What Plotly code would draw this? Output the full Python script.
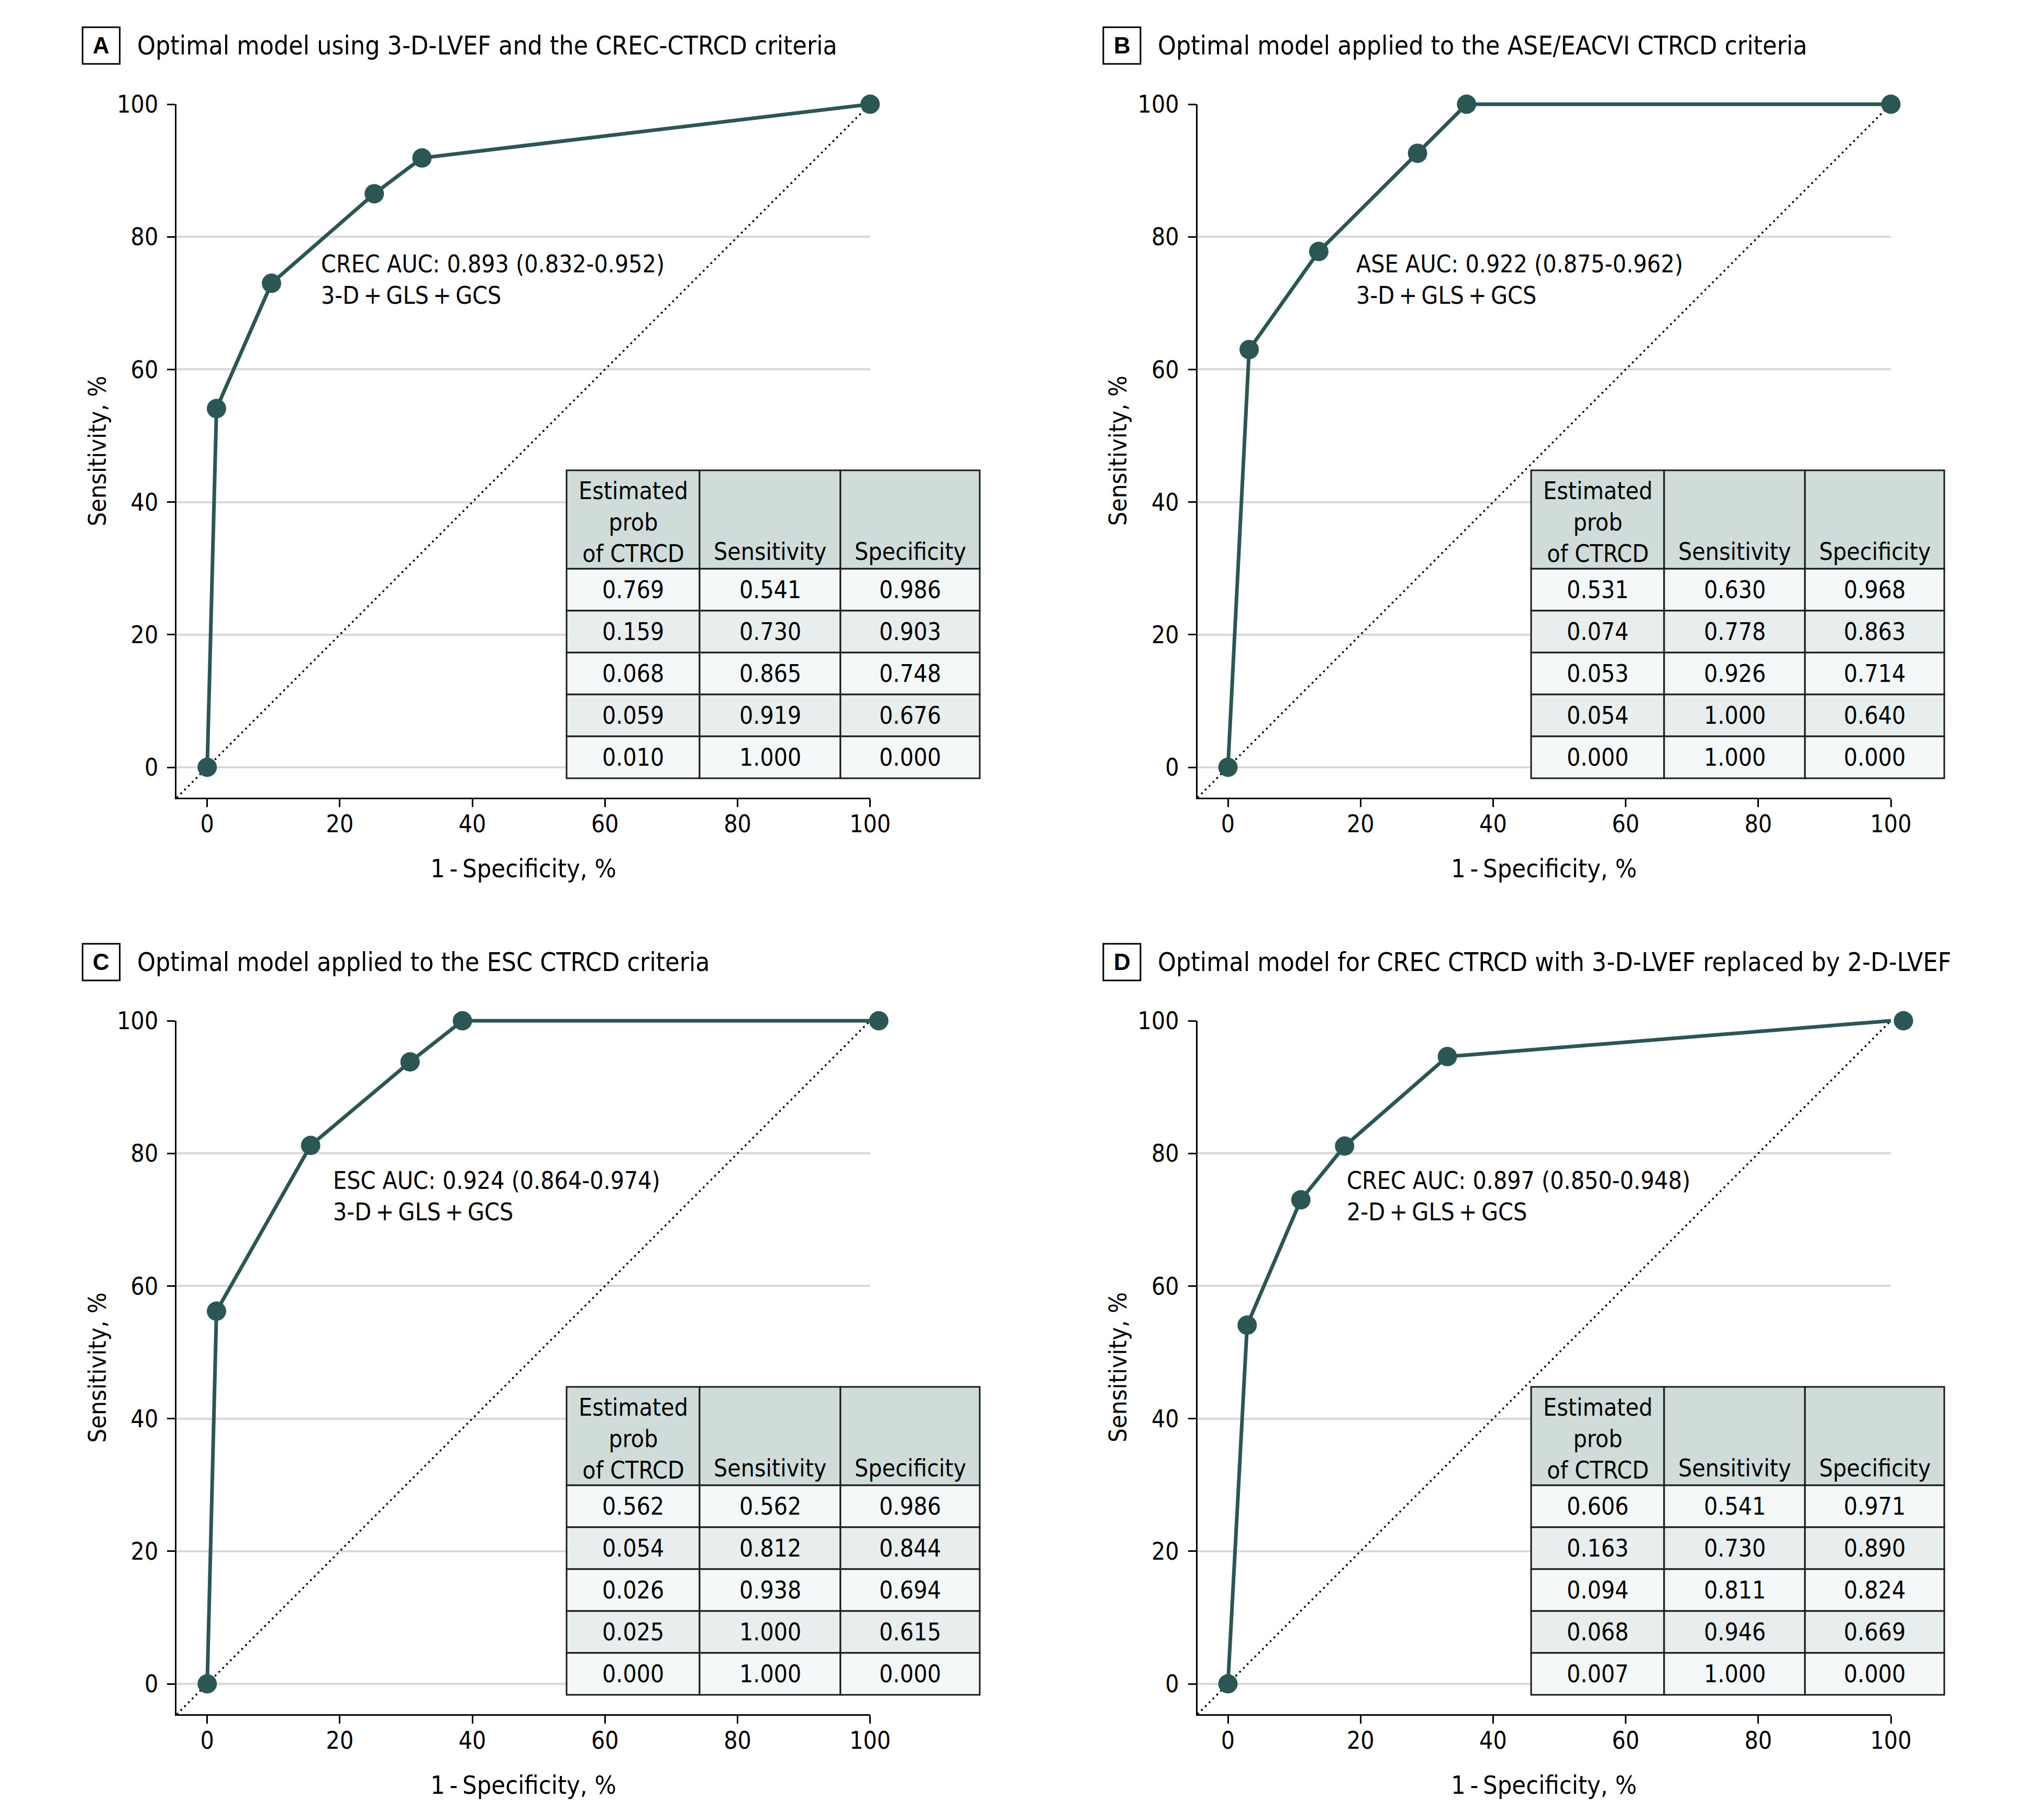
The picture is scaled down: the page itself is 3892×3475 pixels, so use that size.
import plotly.graph_objects as go

W, H = 3892, 3475
FONT = "Liberation Sans Narrow, Arial Narrow, DejaVu Sans Condensed, sans-serif"
LINE_COLOR = "#2b5654"

# ---------------- data ----------------
panels = ["A", "B", "C", "D"]

titles = {
    "A": "Optimal model using 3-D-LVEF and the CREC-CTRCD criteria",
    "B": "Optimal model applied to the ASE/EACVI CTRCD criteria",
    "C": "Optimal model applied to the ESC CTRCD criteria",
    "D": "Optimal model for CREC CTRCD with 3-D-LVEF replaced by 2-D-LVEF",
}
auc_text = {
    "A": ["CREC AUC: 0.893 (0.832-0.952)", "3-D\u2009+\u2009GLS\u2009+\u2009GCS"],
    "B": ["ASE AUC: 0.922 (0.875-0.962)", "3-D\u2009+\u2009GLS\u2009+\u2009GCS"],
    "C": ["ESC AUC: 0.924 (0.864-0.974)", "3-D\u2009+\u2009GLS\u2009+\u2009GCS"],
    "D": ["CREC AUC: 0.897 (0.850-0.948)", "2-D\u2009+\u2009GLS\u2009+\u2009GCS"],
}

# ROC curve points (1 - specificity %, sensitivity %)
a_line_x = [0, 1.4, 9.7, 25.2, 32.4, 100]
a_mark_x = [0, 1.4, 9.7, 25.2, 32.4, 100]
a_sens_y = [0, 54.1, 73.0, 86.5, 91.9, 100]

b_line_x = [0, 3.2, 13.7, 28.6, 36.0, 100]
b_mark_x = [0, 3.2, 13.7, 28.6, 36.0, 100]
b_sens_y = [0, 63.0, 77.8, 92.6, 100, 100]

c_line_x = [0, 1.4, 15.6, 30.6, 38.5, 100]
c_mark_x = [0, 1.4, 15.6, 30.6, 38.5, 101.3]
c_sens_y = [0, 56.2, 81.2, 93.8, 100, 100]

d_line_x = [0, 2.9, 11.0, 17.6, 33.1, 100]
d_mark_x = [0, 2.9, 11.0, 17.6, 33.1, 101.9]
d_sens_y = [0, 54.1, 73.0, 81.1, 94.6, 100]

# Table values
a_prob = [0.769, 0.159, 0.068, 0.059, 0.010]
a_sens = [0.541, 0.730, 0.865, 0.919, 1.000]
a_spec = [0.986, 0.903, 0.748, 0.676, 0.000]

b_prob = [0.531, 0.074, 0.053, 0.054, 0.000]
b_sens = [0.630, 0.778, 0.926, 1.000, 1.000]
b_spec = [0.968, 0.863, 0.714, 0.640, 0.000]

c_prob = [0.562, 0.054, 0.026, 0.025, 0.000]
c_sens = [0.562, 0.812, 0.938, 1.000, 1.000]
c_spec = [0.986, 0.844, 0.694, 0.615, 0.000]

d_prob = [0.606, 0.163, 0.094, 0.068, 0.007]
d_sens = [0.541, 0.730, 0.811, 0.946, 1.000]
d_spec = [0.971, 0.890, 0.824, 0.669, 0.000]

header_labels = ["Estimated<br>prob<br>of CTRCD", "Sensitivity", "Specificity"]
tick_vals = [0, 20, 40, 60, 80, 100]
x_title = "1\u2009-\u2009Specificity, %"
y_title = "Sensitivity, %"

curves = {
    "A": (a_line_x, a_mark_x, a_sens_y),
    "B": (b_line_x, b_mark_x, b_sens_y),
    "C": (c_line_x, c_mark_x, c_sens_y),
    "D": (d_line_x, d_mark_x, d_sens_y),
}
tables = {
    "A": (a_prob, a_sens, a_spec),
    "B": (b_prob, b_sens, b_spec),
    "C": (c_prob, c_sens, c_spec),
    "D": (d_prob, d_sens, d_spec),
}

# ---------------- layout geometry (pixels) ----------------
OFF = 8  # page offset of the plot div (body margin)
S = 12.66  # pixels per axis unit
RMIN, RMAX = -4.6, 100
OMAX = 104  # overlay range end so marks at the edge are not clipped
origins = {"A": (395.7, 1465.0), "B": (2345.0, 1465.0),
           "C": (395.7, 3215.0), "D": (2345.0, 3215.0)}
table_left_off = {"A": 686.3, "B": 579.0, "C": 686.3, "D": 579.0}
col_w = [254, 269, 266]
table_top_off = 567
header_h = 188
row_h = 80
HEADER_FILL = "#cfdcda"
ROW_FILLS = ["#f5f8f8", "#e8eeed"]


def pxx(px):
    return (px - OFF) / W


def pyy(py):
    return 1 - (py - OFF) / H


fig = go.Figure()
shapes = []
annotations = []
FS = 46

for i, p in enumerate(panels):
    ox, oy = origins[p]
    suffix = "" if i == 0 else str(i + 1)
    osuf = str(i + 5)
    xa, ya = "x" + suffix, "y" + suffix
    oxa, oya = "x" + osuf, "y" + osuf
    lx, mx, sy = curves[p]

    fig.add_trace(go.Scatter(
        x=[RMIN, 100], y=[RMIN, 100], mode="lines", xaxis=oxa, yaxis=oya,
        line=dict(color="black", width=3.5, dash="3.5px,6.8px"),
        showlegend=False, hoverinfo="skip", cliponaxis=False))
    fig.add_trace(go.Scatter(
        x=lx, y=sy, mode="lines", xaxis=oxa, yaxis=oya,
        line=dict(color=LINE_COLOR, width=7), showlegend=False, cliponaxis=False))
    fig.add_trace(go.Scatter(
        x=mx, y=sy, mode="markers", xaxis=oxa, yaxis=oya,
        marker=dict(color=LINE_COLOR, size=37, line=dict(width=0)),
        showlegend=False, cliponaxis=False))

    axcommon = dict(range=[RMIN, RMAX], tickvals=tick_vals, showline=True,
                    linecolor="black", linewidth=3, ticks="outside", ticklen=15,
                    tickwidth=3, tickcolor="black", zeroline=False, automargin=False,
                    tickfont=dict(family=FONT, size=FS, color="black"))
    hidden = dict(visible=False, showgrid=False, zeroline=False, automargin=False,
                  range=[RMIN, OMAX])
    fig.update_layout(**{
        "xaxis" + suffix: dict(axcommon, domain=[pxx(ox + RMIN * S), pxx(ox + RMAX * S)],
                               anchor=ya, showgrid=False, ticklabelstandoff=-7),
        "yaxis" + suffix: dict(axcommon, domain=[pyy(oy - RMIN * S), pyy(oy - RMAX * S)],
                               anchor=xa, showgrid=True, gridcolor="#d9d9d9", gridwidth=4,
                               ticklabelstandoff=8),
        "xaxis" + osuf: dict(hidden, domain=[pxx(ox + RMIN * S), pxx(ox + OMAX * S)], anchor=oya),
        "yaxis" + osuf: dict(hidden, domain=[pyy(oy - RMIN * S), pyy(oy - OMAX * S)], anchor=oxa),
    })

    # axis titles
    annotations.append(dict(x=pxx(ox - 211), y=pyy(oy - 47.7 * S), xref="paper", yref="paper",
                            text=y_title, textangle=-90, showarrow=False,
                            font=dict(family=FONT, size=47, color="black"),
                            xanchor="center", yanchor="middle"))
    annotations.append(dict(x=pxx(ox + 47.7 * S), y=pyy(oy + 193), xref="paper", yref="paper",
                            text=x_title, showarrow=False,
                            font=dict(family=FONT, size=48.5, color="black"),
                            xanchor="center", yanchor="middle"))

    # panel title
    top = oy - 100 * S
    tcy = top - 112
    shapes.append(dict(type="rect", xref="paper", yref="paper",
                       x0=pxx(ox - 238), x1=pxx(ox - 167), y0=pyy(tcy - 35), y1=pyy(tcy + 35),
                       line=dict(color="black", width=3), fillcolor="white"))
    annotations.append(dict(x=pxx(ox - 202.5), y=pyy(tcy), xref="paper", yref="paper",
                            text="<b>" + p + "</b>", showarrow=False,
                            font=dict(family="Liberation Sans, Arial, sans-serif", size=44, color="black"),
                            xanchor="center", yanchor="middle"))
    annotations.append(dict(x=pxx(ox - 136), y=pyy(tcy), xref="paper", yref="paper",
                            text=titles[p], showarrow=False,
                            font=dict(family=FONT, size=49.5, color="black"),
                            xanchor="left", yanchor="middle"))

    # AUC annotation
    ax_x = {"A": 17.0, "B": 19.2, "C": 18.8, "D": 17.8}[p]
    annotations.append(dict(x=ax_x, y=73.5, xref=xa, yref=ya,
                            text="<br>".join(auc_text[p]), showarrow=False, align="left",
                            font=dict(family=FONT, size=FS, color="black"),
                            xanchor="left", yanchor="middle"))

    # table
    tl = ox + table_left_off[p]
    tt = oy - table_top_off
    xs = [tl]
    for w in col_w:
        xs.append(xs[-1] + w)
    for c in range(3):
        shapes.append(dict(type="rect", xref="paper", yref="paper", layer="above",
                           x0=pxx(xs[c]), x1=pxx(xs[c + 1]), y0=pyy(tt + header_h), y1=pyy(tt),
                           line=dict(color="#1a1a1a", width=3), fillcolor=HEADER_FILL))
    annotations.append(dict(x=pxx((xs[0] + xs[1]) / 2), y=pyy(tt + 99), xref="paper", yref="paper",
                            text=header_labels[0], showarrow=False,
                            font=dict(family=FONT, size=FS, color="black"),
                            xanchor="center", yanchor="middle"))
    for c in (1, 2):
        annotations.append(dict(x=pxx((xs[c] + xs[c + 1]) / 2), y=pyy(tt + 155), xref="paper",
                                yref="paper", text=header_labels[c], showarrow=False,
                                font=dict(family=FONT, size=FS, color="black"),
                                xanchor="center", yanchor="middle"))
    cols = tables[p]
    for r in range(5):
        y0 = tt + header_h + r * row_h
        for c in range(3):
            shapes.append(dict(type="rect", xref="paper", yref="paper", layer="above",
                               x0=pxx(xs[c]), x1=pxx(xs[c + 1]), y0=pyy(y0 + row_h), y1=pyy(y0),
                               line=dict(color="#1a1a1a", width=3), fillcolor=ROW_FILLS[r % 2]))
            annotations.append(dict(x=pxx((xs[c] + xs[c + 1]) / 2), y=pyy(y0 + row_h / 2),
                                    xref="paper", yref="paper", text=f"{cols[c][r]:.3f}",
                                    showarrow=False,
                                    font=dict(family=FONT, size=FS, color="black"),
                                    xanchor="center", yanchor="middle"))

fig.update_layout(width=W, height=H,
                  margin=dict(l=0, r=0, t=0, b=0, pad=0, autoexpand=False),
                  paper_bgcolor="white", plot_bgcolor="rgba(0,0,0,0)",
                  shapes=shapes, annotations=annotations, showlegend=False,
                  font=dict(family=FONT, color="black"))

fig.write_html("out.html")
